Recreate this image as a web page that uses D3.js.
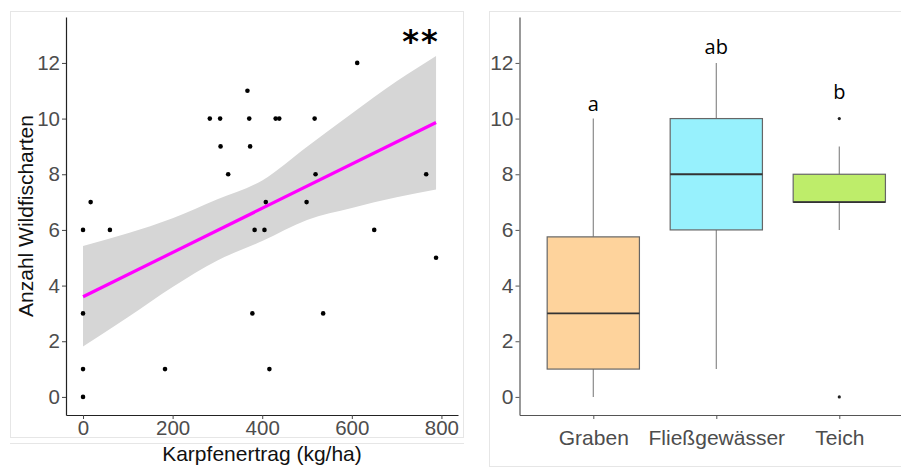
<!DOCTYPE html>
<html>
<head>
<meta charset="utf-8">
<script src="https://cdn.jsdelivr.net/npm/d3@7"></script>
<style>
  html, body { margin: 0; padding: 0; background: #fff; }
  svg { display: block; }
</style>
</head>
<body>
<svg id="chart" width="901" height="468"></svg>
<script>
// ---------- Data: left scatter (Karpfenertrag vs Anzahl Wildfischarten) ----------
const yieldX = [0, 0, 0, 0, 17, 60, 183, 283, 306, 307, 324, 367, 371, 373, 378, 383, 405, 408, 416, 430, 438, 499, 517, 519, 536, 612, 650, 766, 788];
const speciesY = [0, 1, 3, 6, 7, 6, 1, 10, 10, 9, 8, 11, 10, 9, 3, 6, 6, 7, 1, 10, 10, 7, 10, 8, 3, 12, 6, 8, 5];

// fitted line: value at start and end of data range
const fitX = [0, 788];
const fitY = [3.6, 9.86];

// confidence band
const bandX = [0, 100, 200, 300, 400, 500, 600, 700, 788];
const bandLow = [1.81, 2.86, 3.95, 4.90, 5.60, 6.36, 6.79, 7.17, 7.45];
const bandHigh = [5.42, 5.88, 6.42, 7.10, 7.78, 8.99, 10.18, 11.34, 12.25];

const xTicksL = [0, 200, 400, 600, 800];
const yTicks = [0, 2, 4, 6, 8, 10, 12];
const signif = "**";

// ---------- Data: right boxplot ----------
const categories = ["Graben", "Fließgewässer", "Teich"];
const whiskerLow = [0, 1, 6];
const q1 = [1, 6, 7];
const median = [3, 8, 7];
const q3 = [5.75, 10, 8];
const whiskerHigh = [10, 12, 9];
const outliers = [[], [], [10, 0]];
const groupLetters = ["a", "ab", "b"];
const letterY = [10.28, 12.32, 10.7];
const boxColors = ["#FED39C", "#97F1FD", "#BEED6A"];

// ---------- Drawing ----------
const svg = d3.select("#chart");
const tickFont = "'Liberation Sans', Arial, sans-serif";

// panel frames (faint)
svg.append("rect").attr("x", 10.5).attr("y", 11.5).attr("width", 453).attr("height", 426)
  .attr("fill", "none").attr("stroke", "#e6e6e6");
svg.append("line").attr("x1", 10).attr("x2", 464).attr("y1", 443.5).attr("y2", 443.5)
  .attr("stroke", "#e6e6e6");
svg.append("rect").attr("x", 489.5).attr("y", 11.5).attr("width", 420).attr("height", 455)
  .attr("fill", "none").attr("stroke", "#e6e6e6");

// ---- Left panel ----
const xL = d3.scaleLinear().domain([-38, 837]).range([66, 458]);
const yS = d3.scaleLinear().domain([-0.65, 13.65]).range([415, 17]);

const gL = svg.append("g");

const bandData = bandX.map((x, i) => ({x, lo: bandLow[i], hi: bandHigh[i]}));
gL.append("path")
  .datum(bandData)
  .attr("d", d3.area().x(d => xL(d.x)).y0(d => yS(d.lo)).y1(d => yS(d.hi)).curve(d3.curveMonotoneX))
  .attr("fill", "#d6d6d6");

gL.selectAll("circle.pt")
  .data(yieldX.map((x, i) => ({x, y: speciesY[i]})))
  .join("circle")
  .attr("class", "pt")
  .attr("cx", d => xL(d.x)).attr("cy", d => yS(d.y))
  .attr("r", 2.3).attr("fill", "#000");

gL.append("path")
  .datum(fitX.map((x, i) => ({x, y: fitY[i]})))
  .attr("d", d3.line().x(d => xL(d.x)).y(d => yS(d.y)))
  .attr("stroke", "#FF00FF").attr("stroke-width", 3.2).attr("fill", "none");

const axL_y = gL.append("g").attr("transform", "translate(66,0)")
  .call(d3.axisLeft(yS).tickValues(yTicks).tickSize(4).tickSizeOuter(0).tickPadding(2));
const axL_x = gL.append("g").attr("transform", "translate(0,415)")
  .call(d3.axisBottom(xL).tickValues(xTicksL).tickSize(4).tickSizeOuter(0).tickPadding(1.5));
[axL_y, axL_x].forEach(a => {
  a.select(".domain").attr("stroke", "#222").attr("stroke-width", 1.2);
  a.selectAll(".tick line").attr("stroke", "#444");
  a.selectAll(".tick text").attr("font-family", tickFont).attr("font-size", 20.5).attr("fill", "#4d4d4d");
});

gL.append("text")
  .attr("transform", "translate(33,216) rotate(-90)")
  .attr("text-anchor", "middle")
  .attr("font-family", tickFont).attr("font-size", 21).attr("fill", "#111")
  .text("Anzahl Wildfischarten");

gL.append("text")
  .attr("x", 262).attr("y", 461)
  .attr("text-anchor", "middle")
  .attr("font-family", tickFont).attr("font-size", 21).attr("fill", "#111")
  .text("Karpfenertrag (kg/ha)");

gL.append("text")
  .attr("x", 421).attr("y", 52)
  .attr("text-anchor", "middle")
  .attr("font-family", "'DejaVu Sans', sans-serif").attr("font-size", 32).attr("font-weight", "bold")
  .attr("letter-spacing", 2)
  .attr("fill", "#000")
  .text(signif);

// ---- Right panel ----
const xR = d3.scalePoint().domain(categories).range([519.5, 913.1]).padding(0.6);
const boxW = xR.step() * 0.75;
const gR = svg.append("g");

const boxes = categories.map((c, i) => ({
  c, lo: whiskerLow[i], q1: q1[i], med: median[i], q3: q3[i], hi: whiskerHigh[i],
  out: outliers[i], col: boxColors[i], letter: groupLetters[i], ly: letterY[i]
}));

const bg = gR.selectAll("g.box").data(boxes).join("g").attr("class", "box");
bg.append("line")
  .attr("x1", d => xR(d.c)).attr("x2", d => xR(d.c))
  .attr("y1", d => yS(d.q3)).attr("y2", d => yS(d.hi))
  .attr("stroke", "#8a8a8a").attr("stroke-width", 1.2);
bg.append("line")
  .attr("x1", d => xR(d.c)).attr("x2", d => xR(d.c))
  .attr("y1", d => yS(d.lo)).attr("y2", d => yS(d.q1))
  .attr("stroke", "#8a8a8a").attr("stroke-width", 1.2);
bg.append("rect")
  .attr("x", d => xR(d.c) - boxW / 2).attr("width", boxW)
  .attr("y", d => yS(d.q3)).attr("height", d => yS(d.q1) - yS(d.q3))
  .attr("fill", d => d.col).attr("stroke", "#666").attr("stroke-width", 1.2);
bg.append("line")
  .attr("x1", d => xR(d.c) - boxW / 2).attr("x2", d => xR(d.c) + boxW / 2)
  .attr("y1", d => yS(d.med)).attr("y2", d => yS(d.med))
  .attr("stroke", "#333").attr("stroke-width", 1.8);
bg.each(function(d) {
  d3.select(this).selectAll("circle").data(d.out).join("circle")
    .attr("cx", xR(d.c)).attr("cy", v => yS(v)).attr("r", 1.6).attr("fill", "#222");
});
bg.append("text")
  .attr("x", d => xR(d.c)).attr("y", d => yS(d.ly))
  .attr("text-anchor", "middle")
  .attr("font-family", "'Open Sans', sans-serif").attr("font-size", 20).attr("fill", "#000")
  .text(d => d.letter);

const axR_y = gR.append("g").attr("transform", "translate(519.5,0)")
  .call(d3.axisLeft(yS).tickValues(yTicks).tickSize(4).tickSizeOuter(0).tickPadding(2));
const axR_x = gR.append("g").attr("transform", "translate(0,415)")
  .call(d3.axisBottom(xR).tickSize(4).tickSizeOuter(0).tickPadding(11.5));
[axR_y, axR_x].forEach(a => {
  a.select(".domain").attr("stroke", "#555").attr("stroke-width", 1.2);
  a.selectAll(".tick line").attr("stroke", "#555");
  a.selectAll(".tick text").attr("font-family", tickFont).attr("font-size", 21).attr("fill", "#4d4d4d");
});
</script>
</body>
</html>
